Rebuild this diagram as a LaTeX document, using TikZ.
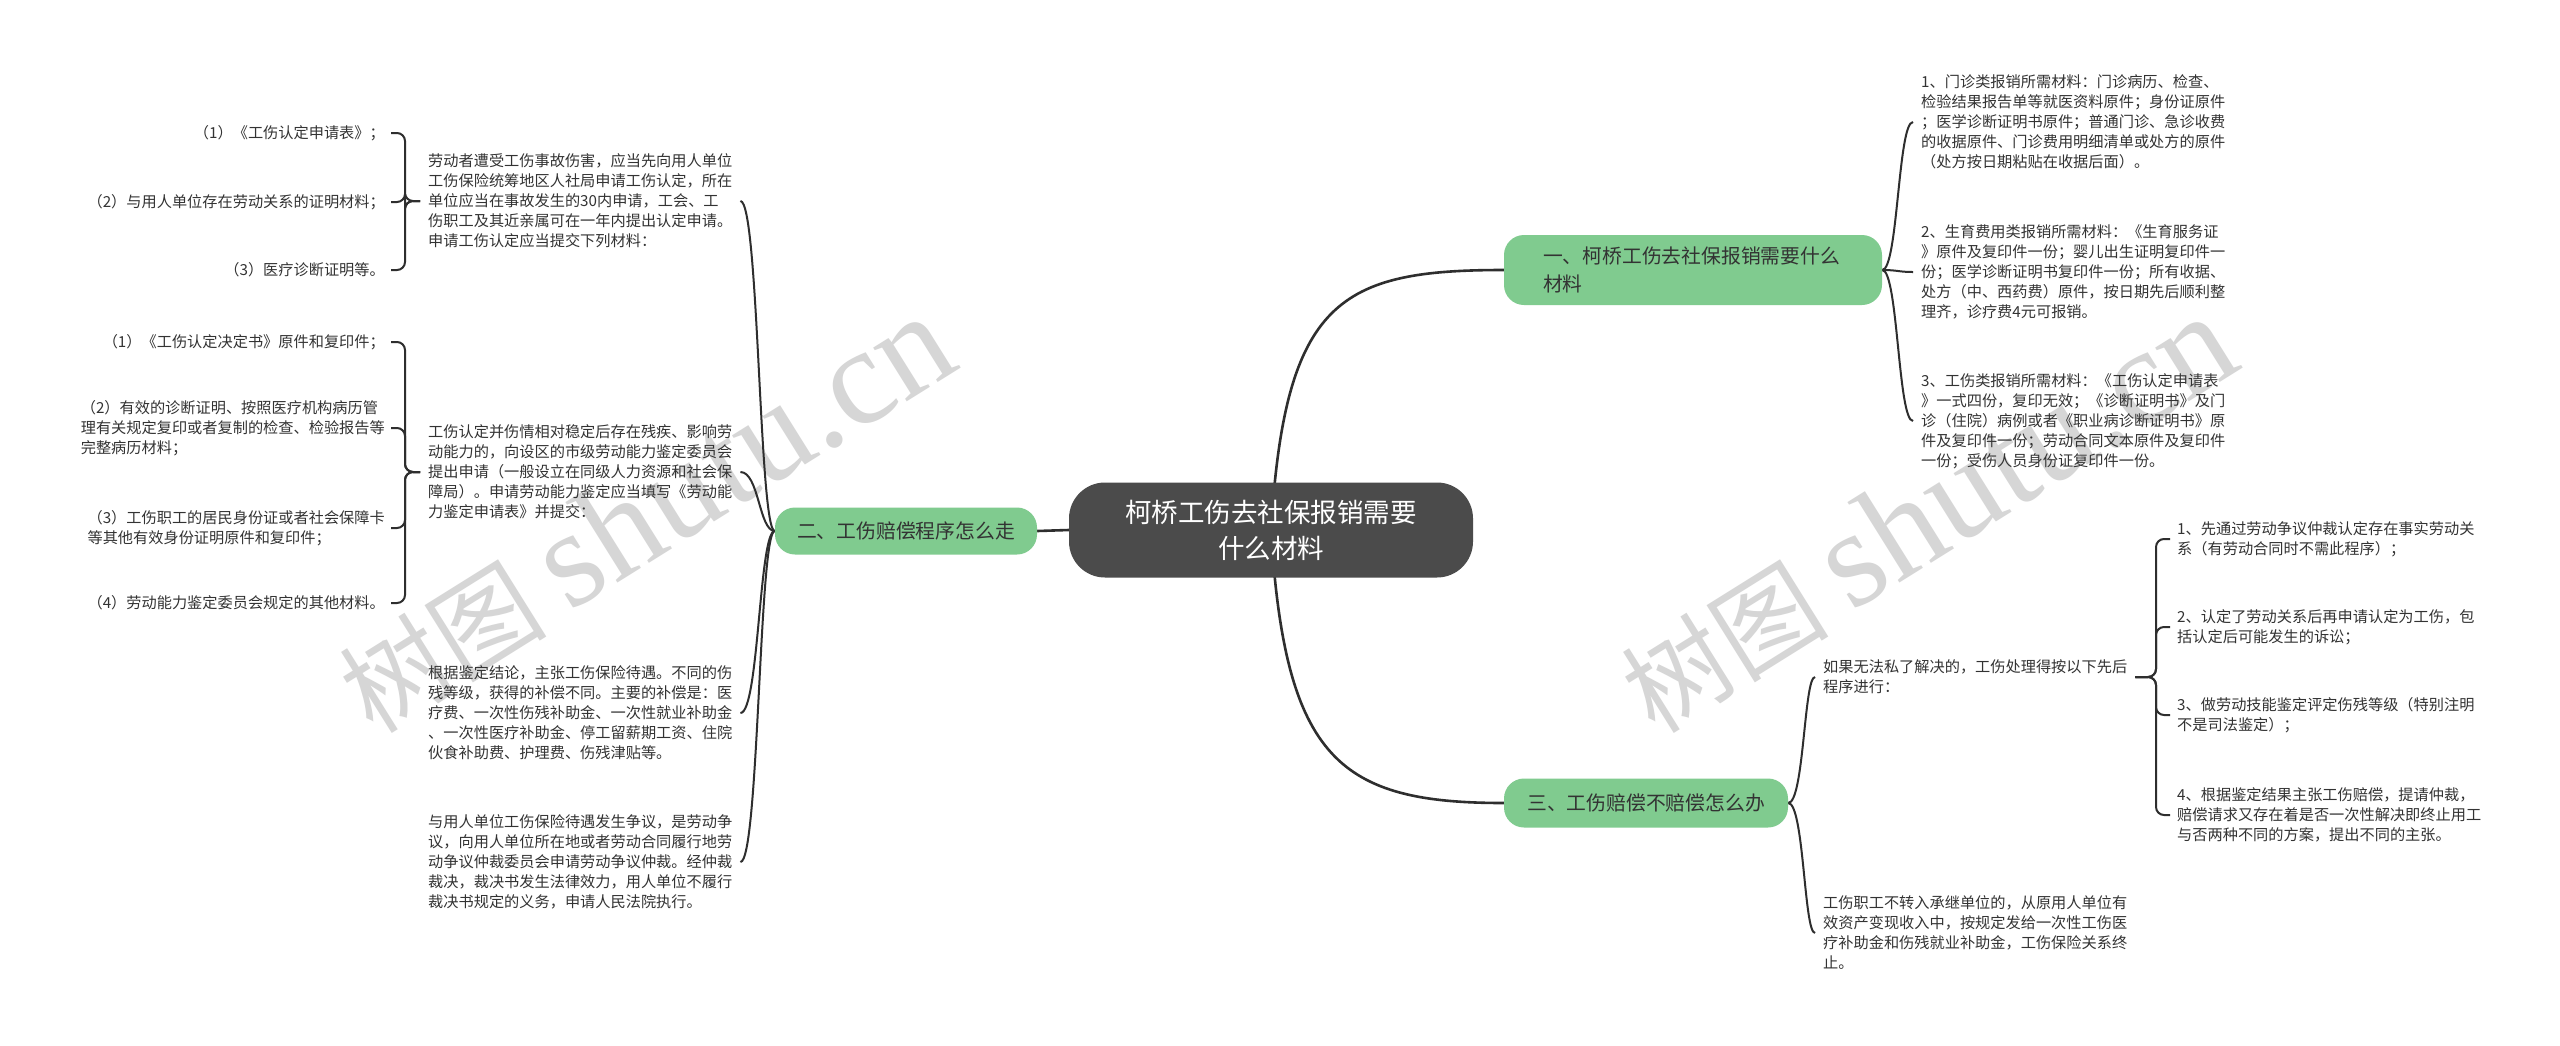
\documentclass[tikz,border=0pt]{standalone}
\usepackage{fontspec}
\newfontfamily\cjk{Noto Sans CJK SC}
\newfontfamily\wmfont{Liberation Serif}
\usetikzlibrary{calc}
\pgfdeclarelayer{background}
\pgfsetlayers{background,main}
\definecolor{txt}{HTML}{333333}
\definecolor{ln}{HTML}{2E2E2E}
\definecolor{grn}{HTML}{80CB8F}
\definecolor{ctr}{HTML}{4B4B4B}
\definecolor{wm}{HTML}{D6D6D6}
\tikzset{
  leaf/.style={font=\cjk\fontsize{15.2}{20}\selectfont, text=txt, align=left, inner ysep=2pt, inner xsep=8pt},
  lleaf/.style={leaf, inner xsep=6pt, anchor=east},
  branchbox/.style={fill=grn, rounded corners=20pt, font=\cjk\fontsize{19.8}{28}\selectfont, text=txt, align=left},
  conn/.style={draw=ln, line width=2pt},
  mainconn/.style={draw=ln, line width=2.6pt},
  brace/.style={draw=ln, line width=2pt, rounded corners=8pt},
  wmark/.style={rotate=32, text=wm, inner sep=0pt},
}
\newcommand\wmtext{{\cjk\fontsize{104}{104}\selectfont 树图}\hspace{24pt}{\wmfont\fontsize{138}{138}\selectfont shutu.cn}}
\begin{document}
\begin{tikzpicture}[x=1pt,y=-1pt]
\useasboundingbox (0,0) rectangle (2560,1045);

% central node
\node[fill=ctr, rounded corners=36pt, minimum width=404pt, minimum height=95pt, text=white, align=center,
  font=\cjk\fontsize{26.5}{36}\selectfont] (c) at (1271,530) {柯桥工伤去社保报销需要\\什么材料};

% branches
\node[branchbox, minimum width=378pt, minimum height=70pt, text width=300pt, inner xsep=39pt] (b1) at (1693,270) {一、柯桥工伤去社保报销需要什么\\材料};
\node[branchbox, minimum width=262pt, minimum height=47pt, inner xsep=20pt] (b2) at (906,531) {二、工伤赔偿程序怎么走};
\node[branchbox, minimum width=284pt, minimum height=49pt, inner xsep=21pt] (b3) at (1646,803) {三、工伤赔偿不赔偿怎么办};

% branch 1 leaves
\node[leaf, anchor=west] (r1) at (1913,122) {1、门诊类报销所需材料：门诊病历、检查、\\检验结果报告单等就医资料原件；身份证原件\\；医学诊断证明书原件；普通门诊、急诊收费\\的收据原件、门诊费用明细清单或处方的原件\\（处方按日期粘贴在收据后面）。};
\node[leaf, anchor=west] (r2) at (1913,272) {2、生育费用类报销所需材料：《生育服务证\\》原件及复印件一份；婴儿出生证明复印件一\\份；医学诊断证明书复印件一份；所有收据、\\处方（中、西药费）原件，按日期先后顺利整\\理齐，诊疗费4元可报销。};
\node[leaf, anchor=west] (r3) at (1913,421) {3、工伤类报销所需材料：《工伤认定申请表\\》一式四份，复印无效；《诊断证明书》及门\\诊（住院）病例或者《职业病诊断证明书》原\\件及复印件一份；劳动合同文本原件及复印件\\一份；受伤人员身份证复印件一份。};

% branch 3 children
\node[leaf, anchor=west] (t1) at (1815,677) {如果无法私了解决的，工伤处理得按以下先后\\程序进行：};
\node[leaf, anchor=west] (t2) at (1815,933) {工伤职工不转入承继单位的，从原用人单位有\\效资产变现收入中，按规定发给一次性工伤医\\疗补助金和伤残就业补助金，工伤保险关系终\\止。};

% grandchildren of t1
\node[leaf, anchor=west, inner xsep=7pt] (g1) at (2170,539) {1、先通过劳动争议仲裁认定存在事实劳动关\\系（有劳动合同时不需此程序）；};
\node[leaf, anchor=west, inner xsep=7pt] (g2) at (2170,627) {2、认定了劳动关系后再申请认定为工伤，包\\括认定后可能发生的诉讼；};
\node[leaf, anchor=west, inner xsep=7pt] (g3) at (2170,715) {3、做劳动技能鉴定评定伤残等级（特别注明\\不是司法鉴定）；};
\node[leaf, anchor=west, inner xsep=7pt] (g4) at (2170,815) {4、根据鉴定结果主张工伤赔偿，提请仲裁，\\赔偿请求又存在着是否一次性解决即终止用工\\与否两种不同的方案，提出不同的主张。};

% branch 2 children
\node[leaf, anchor=west] (l1) at (420,201) {劳动者遭受工伤事故伤害，应当先向用人单位\\工伤保险统筹地区人社局申请工伤认定，所在\\单位应当在事故发生的30内申请，工会、工\\伤职工及其近亲属可在一年内提出认定申请。\\申请工伤认定应当提交下列材料：};
\node[leaf, anchor=west] (l2) at (420,472) {工伤认定并伤情相对稳定后存在残疾、影响劳\\动能力的，向设区的市级劳动能力鉴定委员会\\提出申请（一般设立在同级人力资源和社会保\\障局）。申请劳动能力鉴定应当填写《劳动能\\力鉴定申请表》并提交：};
\node[leaf, anchor=west] (l3) at (420,713) {根据鉴定结论，主张工伤保险待遇。不同的伤\\残等级，获得的补偿不同。主要的补偿是：医\\疗费、一次性伤残补助金、一次性就业补助金\\、一次性医疗补助金、停工留薪期工资、住院\\伙食补助费、护理费、伤残津贴等。};
\node[leaf, anchor=west] (l4) at (420,862) {与用人单位工伤保险待遇发生争议，是劳动争\\议，向用人单位所在地或者劳动合同履行地劳\\动争议仲裁委员会申请劳动争议仲裁。经仲裁\\裁决，裁决书发生法律效力，用人单位不履行\\裁决书规定的义务，申请人民法院执行。};

% leaves of l1
\node[lleaf] (a1) at (391,133) {（1）《工伤认定申请表》；};
\node[lleaf] (a2) at (391,202) {（2）与用人单位存在劳动关系的证明材料；};
\node[lleaf] (a3) at (391,270) {（3）医疗诊断证明等。};
% leaves of l2
\node[lleaf] (d1) at (391,342) {（1）《工伤认定决定书》原件和复印件；};
\node[lleaf] (d2) at (391,428) {（2）有效的诊断证明、按照医疗机构病历管\\理有关规定复印或者复制的检查、检验报告等\\完整病历材料；};
\node[lleaf] (d3) at (391,528) {（3）工伤职工的居民身份证或者社会保障卡\\等其他有效身份证明原件和复印件；};
\node[lleaf] (d4) at (391,603) {（4）劳动能力鉴定委员会规定的其他材料。};

% helper x-positions
\coordinate (v1) at (1898,0);
\coordinate (v2) at (759,0);
\coordinate (v3) at (1804,0);
\coordinate (vA) at (405,0);
\coordinate (vG) at (2156,0);

\begin{pgfonlayer}{background}
\fill[white] (0,0) rectangle (2560,1045);
% watermarks
\node[wmark] (w1) at (645,514) {\wmtext};
\node[wmark] (w2) at (1927,514) {\wmtext};

% main connectors
\draw[mainconn] (c.center) .. controls (1285,300) and (1340,270) .. (b1.west);
\draw[mainconn] (c.center) .. controls (1285,760) and (1340,803) .. (b3.west);
\draw[mainconn] (c.west) -- (b2.east);

% branch 1 to leaves
\foreach \n in {r1,r2,r3}
  \draw[conn] (b1.east) .. controls (v1 |- b1.east) and (v1 |- \n.west) .. (\n.west);
% branch 3 to children
\foreach \n in {t1,t2}
  \draw[conn] (b3.east) .. controls (v3 |- b3.east) and (v3 |- \n.west) .. (\n.west);
% branch 2 to children
\foreach \n in {l1,l2,l3,l4}
  \draw[conn] (b2.west) .. controls (v2 |- b2.west) and (v2 |- \n.east) .. (\n.east);

% braces
\foreach \n in {g1,g2,g3,g4}
  \draw[brace] (t1.east) -- (t1.east -| vG) |- (\n.west);
\foreach \n in {a1,a2,a3}
  \draw[brace] (l1.west) -- (l1.west -| vA) |- (\n.east);
\foreach \n in {d1,d2,d3,d4}
  \draw[brace] (l2.west) -- (l2.west -| vA) |- (\n.east);
\end{pgfonlayer}
\end{tikzpicture}
\end{document}
